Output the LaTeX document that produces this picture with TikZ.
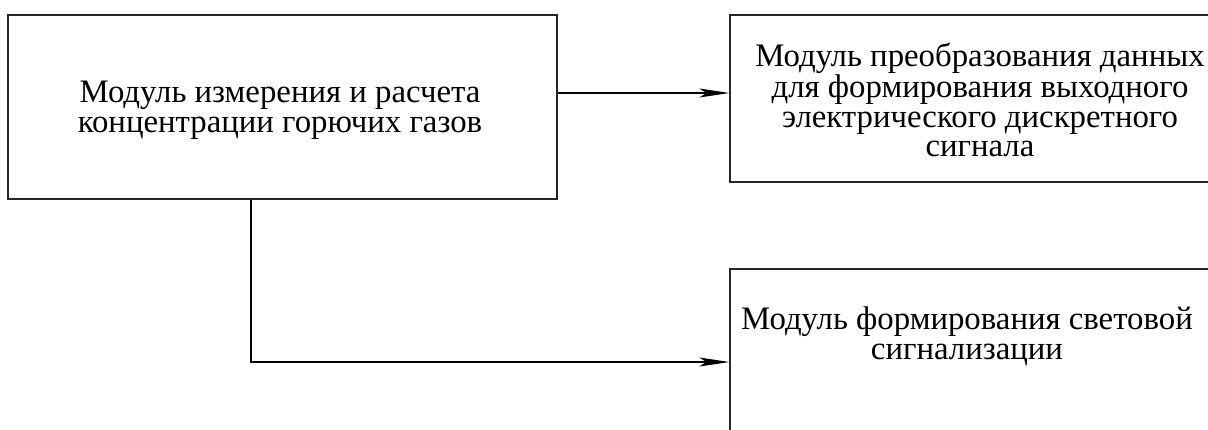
\documentclass[tikz,border=0pt]{standalone}
\usepackage{fontspec}
\setmainfont{Liberation Serif}
\usetikzlibrary{positioning}
\usetikzlibrary{arrows.meta}

\begin{document}
\begin{tikzpicture}[x=1pt,y=-1pt,
        block/.style={draw=black!85, line width=1.3pt, inner sep=0pt},
        caption/.style={align=center, inner sep=0pt, font=\fontsize{32.8}{29.6}\selectfont},
        link/.style={line width=1.3pt, -{Stealth[length=30pt, width=9pt, inset=7pt]}}]
        \useasboundingbox (0,0) rectangle (1208,429);
        \clip (0,0) rectangle (1208,429);
        % blocks
        \node[block, minimum width=549pt, minimum height=184pt] (meas) at (282.5,107) {};
        \node[block, minimum width=500pt, minimum height=167pt] (conv) at (980,98.5) {};
        \node[block, minimum width=520pt, minimum height=200pt] (sig) at (990,369) {};
        % texts
        \node[caption] (meastxt) at (280,110) {Модуль измерения и расчета\\концентрации горючих газов};
        \node[caption] (convtxt) at (980,100) {Модуль преобразования данных\\для формирования выходного\\электрического дискретного\\сигнала};
        \node[caption] (sigtxt) at (967,336) {Модуль формирования световой\\сигнализации};
        % connectors
        \coordinate (upper) at (0,93);
        \coordinate (lower) at (251,362);
        \draw[link] (meas.east |- upper) -- (conv.west |- upper);
        \draw[link] (meas.south -| lower) -- (lower) -- (sig.west |- lower);
    \end{tikzpicture}
\end{document}
